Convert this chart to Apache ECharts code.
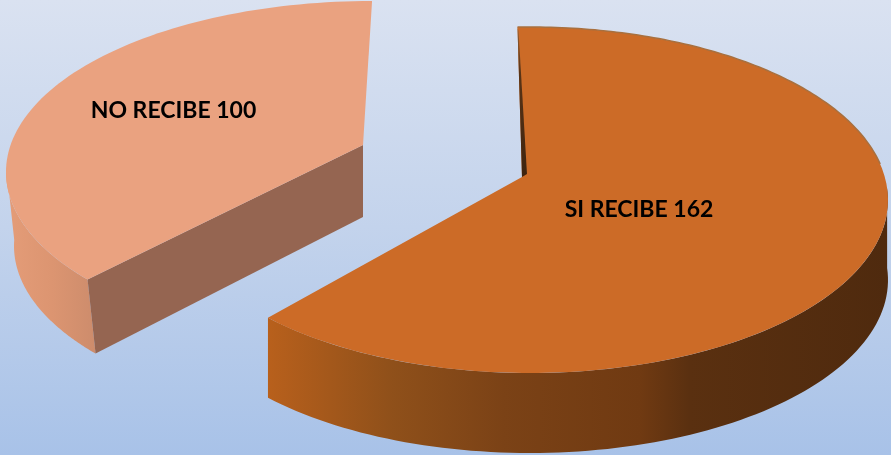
<!DOCTYPE html>
<html><head><meta charset="utf-8">
<style>html,body{margin:0;padding:0;width:891px;height:455px;overflow:hidden}#c{width:891px;height:455px}</style>
<script src="https://cdn.jsdelivr.net/npm/echarts@6/dist/echarts.min.js"></script>
</head><body><div id="c"></div>
<script>
const categories = ['SI RECIBE', 'NO RECIBE'];
const values = [162, 100];
const total = values.reduce((a, b) => a + b, 0);

const chart = echarts.init(document.getElementById('c'), null, {renderer: 'canvas'});
const G = echarts.graphic.LinearGradient;
const looks = [
  {apex:[522,177], c:[530,200], rx:358, ry:173, start:-2, stretch:1.029, dx:0, dy:80, wallFrom:86, top:'#cc6b27',
   wall:new G(268,0,888,0,[{offset:0,color:'#b8601c'},{offset:.2,color:'#8f501a'},{offset:.38,color:'#7b4216'},{offset:.6,color:'#703a12'},{offset:.68,color:'#5a3010'},{offset:1,color:'#4f2a0e'}],true),
   cut:null, label:[639,209.5]},
  {apex:[363,145], c:[372,172], rx:366, ry:171, start:231, stretch:.9389, dx:8, dy:74, wallTo:272, top:'#eaa280',
   wall:new G(8,0,95,0,[{offset:0,color:'#e49c78'},{offset:.5,color:'#dc9571'},{offset:1,color:'#cd8c6c'}],true),
   cut:'#956551', label:[173.5,110.5]}
];
function pt(l, deg, dx, dy){
  const a = deg*Math.PI/180;
  return [l.c[0]+l.rx*Math.sin(a)+(dx||0), l.c[1]-l.ry*Math.cos(a)+(dy||0)];
}
function arc(l, from, to, dx, dy){
  const out = [], n = 90;
  for(let i=0;i<=n;i++) out.push(pt(l, from+(to-from)*i/n, dx, dy));
  return out;
}
function renderItem(params, api){
  const i = params.dataIndex, l = looks[i];
  const sweep = api.value(0)/total*360*l.stretch;
  const s = l.start, e = s+sweep;
  const kids = [];
  const poly = (points, fill) => kids.push({type:'polygon', shape:{points}, style:{fill}, silent:true});
  if(i===0){
    const a0 = l.wallFrom;
    poly(arc(l,a0,e).concat(arc(l,a0,e,l.dx,l.dy).reverse()), l.wall);
    poly([l.apex].concat(arc(l,s,e)), l.top);
    const p = pt(l,s);
    kids.push({type:'polyline', shape:{points:arc(l,s,78)}, style:{fill:null, stroke:'#a8703f', lineWidth:1.5}, silent:true});
    poly([p,[p[0]+1,p[1]+4],[l.apex[0]+5,l.apex[1]-3],l.apex],
      new G(0,p[1],0,l.apex[1],[{offset:0,color:'#9a6030'},{offset:.3,color:'#5a3416'},{offset:1,color:'#3e2410'}],true));
  } else {
    poly(arc(l,s,l.wallTo).concat(arc(l,s,l.wallTo,l.dx,l.dy).reverse()), l.wall);
    const p = pt(l,s);
    poly([l.apex,p,[p[0]+l.dx,p[1]+l.dy],[l.apex[0],l.apex[1]+l.dy-2]], l.cut);
    poly([l.apex].concat(arc(l,s,e)), l.top);
  }
  kids.push({type:'text', x:l.label[0], y:l.label[1], style:{
    text: categories[i]+' '+api.value(0), fill:'#000', align:'center', verticalAlign:'middle',
    font:'bold 23px Lato, "Open Sans", sans-serif'}});
  return {type:'group', children:kids};
}
chart.setOption({
  animation:false,
  backgroundColor:new G(0,0,0,1,[{offset:0,color:'#dae2f1'},{offset:.5,color:'#c3d3ec'},{offset:1,color:'#a8c2e8'}]),
  series:[{type:'custom', coordinateSystem:'none', renderItem, silent:true,
    data:categories.map((n,i)=>({name:n, value:[values[i]]}))}]
});
</script></body></html>
